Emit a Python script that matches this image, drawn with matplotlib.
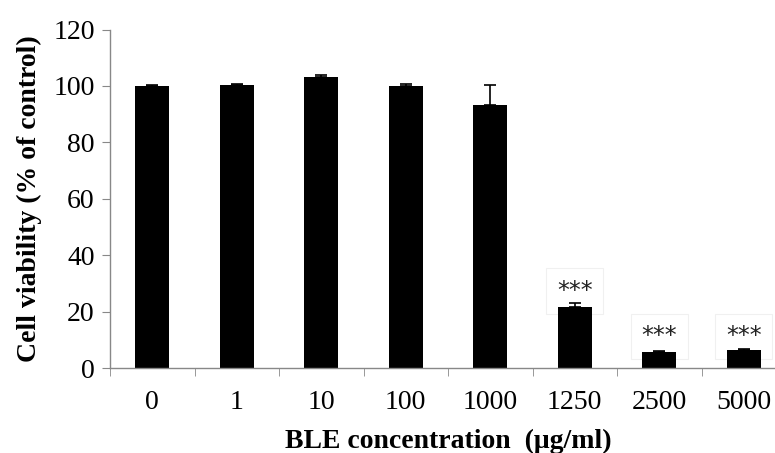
import matplotlib
matplotlib.use("Agg")
import matplotlib.pyplot as plt
import numpy as np

categories = ["0", "1", "10", "100", "1000", "1250", "2500", "5000"]
values = [100.0, 100.3, 103.2, 100.0, 93.3, 21.5, 5.8, 6.5]
errors = [0.3, 0.4, 0.6, 0.7, 7.2, 1.6, 0.4, 0.4]
sig_labels = ["", "", "", "", "", "***", "***", "***"]
sig_y = [0, 0, 0, 0, 0, 27.3, 11.2, 11.2]
yticks = [0, 20, 40, 60, 80, 100, 120]

plt.rcParams['font.family'] = ['Liberation Serif', 'DejaVu Serif']

fig = plt.figure(figsize=(7.75, 4.53), dpi=100)
ax = fig.add_axes([110/775, 85/453, 676/775, 338.5/453])

x = np.arange(len(categories))
ax.bar(x, values, width=0.4, color='black', zorder=2)
ax.errorbar(x, values, yerr=[np.zeros(len(errors)), errors], fmt='none',
            ecolor='black', elinewidth=1.2, capsize=4, capthick=1.2, zorder=3)

for xi, lab, yy in zip(x, sig_labels, sig_y):
    if lab:
        ax.text(xi, yy, lab, ha='center', va='center', fontsize=17,
                family='DejaVu Sans', color='#222222', zorder=1,
                bbox=dict(boxstyle='square,pad=0.45', fc='none', ec='#f0f0f0', lw=0.8))

ax.set_xlim(-0.5, len(categories) - 0.5)
ax.set_ylim(0, 120)
ax.set_yticks(yticks)
ax.set_xticks(x)
ax.set_xticklabels(categories, fontsize=20)
ax.set_yticklabels([str(t) for t in yticks], fontsize=20)
ax.set_xticks(np.arange(-0.5, len(categories), 1.0), minor=True)
ax.tick_params(axis='x', which='major', length=0, pad=16)
ax.tick_params(axis='x', which='minor', length=6, color='#888888', direction='out')
ax.tick_params(axis='y', length=6, color='#888888', direction='out', pad=5)

for s in ['top', 'right']:
    ax.spines[s].set_visible(False)
for s in ['left', 'bottom']:
    ax.spines[s].set_color('#888888')
    ax.spines[s].set_linewidth(1.0)

ax.set_ylabel("Cell viability (% of control)", fontsize=20, fontweight='bold', labelpad=8)
ax.set_xlabel("BLE concentration  (\u03bcg/ml)", fontsize=20, fontweight='bold', labelpad=10)

fig.savefig("out.png", dpi=100)
